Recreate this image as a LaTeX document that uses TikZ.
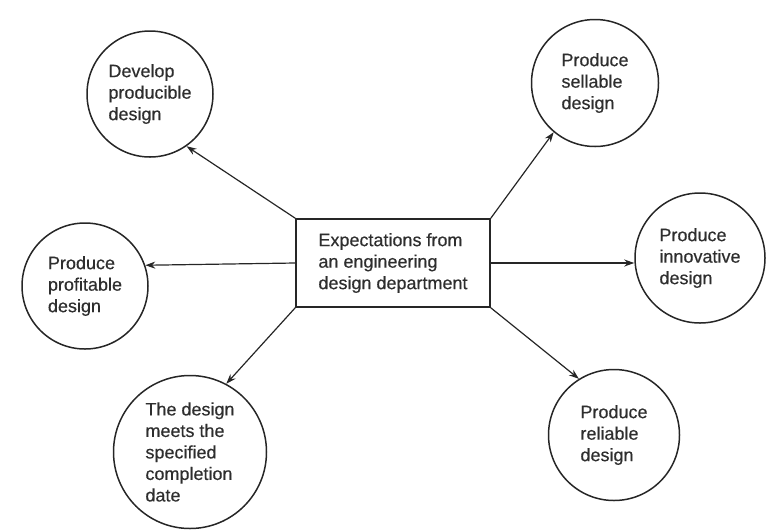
\documentclass[tikz,border=0pt]{standalone}
\usepackage{fontspec}
\setmainfont[FakeBold=0.4]{Liberation Sans}
\usetikzlibrary{arrows.meta}
\begin{document}
\begin{tikzpicture}[x=1pt,y=-1pt,
  every node/.style={font=\fontsize{18}{21.5}\selectfont, text=black!82},
  goal/.style={circle, draw=black!85, line width=1.5pt, inner sep=0pt, align=left},
  hub/.style={rectangle, draw=black!85, line width=1.6pt, minimum width=194pt, minimum height=88pt, align=left, inner sep=0pt},
  arr/.style={draw=black!85, line width=1.2pt, -{Stealth[length=10pt,width=7pt]}}]
\useasboundingbox (0,0) rectangle (768,531);
\node[hub] (box) at (393,263) {Expectations from\\an engineering\\design department};
\node[goal, minimum size=126pt] (dev) at (150,94) {Develop\\producible\\design};
\node[goal, minimum size=126pt] (prof) at (85,286) {Produce\\profitable\\design};
\node[goal, minimum size=153pt] (date) at (190,452) {The design\\meets the\\specified\\completion\\date};
\node[goal, minimum size=127pt] (sell) at (595,83) {Produce\\sellable\\design};
\node[goal, minimum size=130pt] (innov) at (700,258) {Produce\\innovative\\design};
\node[goal, minimum size=131pt] (rel) at (614,435) {Produce\\reliable\\design};
\draw[arr] (box.north west) -- (dev.-55);
\draw[arr] (box.west) -- (prof.19);
\draw[arr] (box.south west) -- (date.62);
\draw[arr] (box.north east) -- (sell.230);
\draw[arr] (box.east) -- (box.east -| innov.west);
\draw[arr] (box.south east) -- (rel.122);
\end{tikzpicture}
\end{document}
